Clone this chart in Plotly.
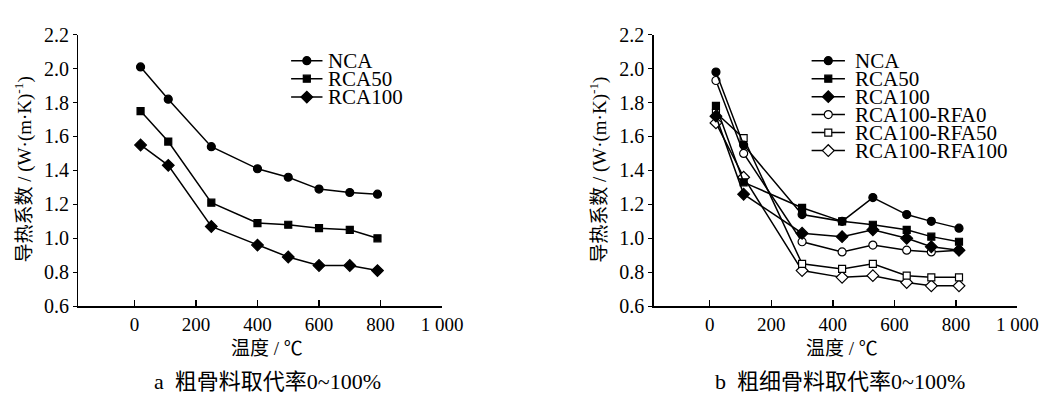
import plotly.graph_objects as go

# ---- data -------------------------------------------------------------
# panel a: coarse aggregate replacement
temps_a = [20, 110, 250, 400, 500, 600, 700, 790]
nca_a = [2.01, 1.82, 1.54, 1.41, 1.36, 1.29, 1.27, 1.26]
rca50_a = [1.75, 1.57, 1.21, 1.09, 1.08, 1.06, 1.05, 1.00]
rca100_a = [1.55, 1.43, 1.07, 0.96, 0.89, 0.84, 0.84, 0.81]

# panel b: coarse + fine aggregate replacement
temps_b = [20, 110, 300, 430, 530, 640, 720, 810]
nca_b = [1.98, 1.55, 1.14, 1.10, 1.24, 1.14, 1.10, 1.06]
rca50_b = [1.78, 1.33, 1.18, 1.10, 1.08, 1.05, 1.01, 0.98]
rca100_b = [1.72, 1.26, 1.03, 1.01, 1.05, 1.00, 0.95, 0.93]
rfa0_b = [1.93, 1.50, 0.98, 0.92, 0.96, 0.93, 0.92, 0.93]
rfa50_b = [1.74, 1.59, 0.85, 0.82, 0.85, 0.78, 0.77, 0.77]
rfa100_b = [1.68, 1.36, 0.81, 0.77, 0.78, 0.74, 0.72, 0.72]

names_a = ["NCA", "RCA50", "RCA100"]
names_b = ["NCA", "RCA50", "RCA100", "RCA100-RFA0", "RCA100-RFA50", "RCA100-RFA100"]

x_tickvals = [0, 200, 400, 600, 800, 1000]
x_ticktext = ["0", "200", "400", "600", "800", "1 000"]
y_tickvals = [0.6, 0.8, 1.0, 1.2, 1.4, 1.6, 1.8, 2.0, 2.2]
y_ticktext = ["0.6", "0.8", "1.0", "1.2", "1.4", "1.6", "1.8", "2.0", "2.2"]

ytitle = "导热系数 / (W·(m·K)<sup>-1</sup>)"
xtitle = "温度 / ℃"
sub_a = "a  粗骨料取代率0~100%"
sub_b = "b  粗细骨料取代率0~100%"

# ---- geometry / styling -----------------------------------------------
W, H = 1061, 409
FONT = "Liberation Serif"
CJK = "Liberation Serif, Noto Sans CJK SC"
X_RANGE = [-182, 1000]
Y_RANGE = [0.6, 2.2]
PLOT_TOP, PLOT_BOTTOM = 25, 312          # pixel rows of the plot areas
PANEL_A = (80, 451)                      # pixel columns of panel a
PANEL_B = (667, 1038)                    # pixel columns of panel b

STYLE = {
    "NCA": dict(symbol="circle", size=8, color="black"),
    "RCA50": dict(symbol="square", size=7, color="black"),
    "RCA100": dict(symbol="diamond", size=9, color="black"),
    "RCA100-RFA0": dict(symbol="circle", size=8, color="white"),
    "RCA100-RFA50": dict(symbol="square", size=7, color="white"),
    "RCA100-RFA100": dict(symbol="diamond", size=9, color="white"),
}


def marker(name):
    s = STYLE[name]
    return dict(symbol=s["symbol"], size=s["size"], color=s["color"],
                line=dict(color="black", width=1.2))


def px(x):
    return x / W


def py(y):
    return 1 - y / H


def to_data(panel, xpix, ypix):
    """Pixel position inside a panel -> that panel's axis coordinates."""
    x0, x1 = panel
    xd = X_RANGE[0] + (xpix - x0) / (x1 - x0) * (X_RANGE[1] - X_RANGE[0])
    yd = Y_RANGE[1] - (ypix - PLOT_TOP) / (PLOT_BOTTOM - PLOT_TOP) * (Y_RANGE[1] - Y_RANGE[0])
    return xd, yd


fig = go.Figure()

series_a = [nca_a, rca50_a, rca100_a]
series_b = [nca_b, rca50_b, rca100_b, rfa0_b, rfa50_b, rfa100_b]

for name, vals in zip(names_a, series_a):
    fig.add_trace(go.Scatter(
        x=temps_a, y=vals, mode="lines+markers", name=name, showlegend=False,
        line=dict(color="black", width=1.5), marker=marker(name),
        xaxis="x", yaxis="y"))

# draw the lower series first so the upper filled markers sit on top
for name, vals in reversed(list(zip(names_b, series_b))):
    fig.add_trace(go.Scatter(
        x=temps_b, y=vals, mode="lines+markers", name=name, showlegend=False,
        line=dict(color="black", width=1.5), marker=marker(name),
        xaxis="x2", yaxis="y2"))

# ---- legend keys (line + marker) and labels ---------------------------
legend_a = dict(panel=PANEL_A, axes=("x", "y"), x0=297, x1=329, xm=313, xt=333,
                rows=[52.5, 71.5, 91.0])
legend_b = dict(panel=PANEL_B, axes=("x2", "y2"), x0=828, x1=862, xm=845, xt=870,
                rows=[52.5, 71.5, 90.5, 109.5, 128.5, 147.5])

annotations = []
for leg, names in ((legend_a, names_a), (legend_b, names_b)):
    xa, ya = leg["axes"]
    for name, yy in zip(names, leg["rows"]):
        lx0, ly = to_data(leg["panel"], leg["x0"], yy)
        lx1, _ = to_data(leg["panel"], leg["x1"], yy)
        mx, _ = to_data(leg["panel"], leg["xm"], yy)
        fig.add_trace(go.Scatter(
            x=[lx0, lx1], y=[ly, ly], mode="lines",
            line=dict(color="black", width=1.5), showlegend=False,
            hoverinfo="skip", xaxis=xa, yaxis=ya))
        fig.add_trace(go.Scatter(
            x=[mx], y=[ly], mode="markers", marker=marker(name),
            showlegend=False, hoverinfo="skip", xaxis=xa, yaxis=ya))
        annotations.append(dict(
            x=px(leg["xt"]), y=py(yy), xref="paper", yref="paper", text=name,
            showarrow=False, xanchor="left", yanchor="middle",
            font=dict(family=FONT, size=21, color="black")))

# ---- titles -----------------------------------------------------------
for xc in (24, 611):
    annotations.append(dict(
        x=px(xc), y=py(168), xref="paper", yref="paper", text=ytitle,
        textangle=-90, showarrow=False, xanchor="center", yanchor="middle",
        font=dict(family=CJK, size=19, color="black")))
for xc in (272, 859):
    annotations.append(dict(
        x=px(xc), y=py(357), xref="paper", yref="paper", text=xtitle,
        showarrow=False, xanchor="center", yanchor="middle",
        font=dict(family=CJK, size=19, color="black")))
for xc, txt in ((273, sub_a), (857, sub_b)):
    annotations.append(dict(
        x=px(xc), y=py(392), xref="paper", yref="paper", text=txt,
        showarrow=False, xanchor="center", yanchor="middle",
        font=dict(family=CJK, size=22, color="black")))

xaxis_common = dict(
    range=X_RANGE, tickvals=x_tickvals, ticktext=x_ticktext,
    ticks="inside", ticklen=6, tickwidth=1.3, tickcolor="black",
    showline=True, linecolor="black", linewidth=1.5, showgrid=False,
    zeroline=False, tickfont=dict(family=FONT, size=19, color="black"),
    fixedrange=True)
yaxis_common = dict(
    range=Y_RANGE, tickvals=y_tickvals, ticktext=y_ticktext,
    ticks="outside", ticklen=4, tickwidth=1.3, tickcolor="black",
    showline=True, linecolor="black", linewidth=1.5, showgrid=False,
    zeroline=False, tickfont=dict(family=FONT, size=20, color="black"),
    fixedrange=True)

fig.update_layout(
    width=W, height=H, autosize=False,
    margin=dict(l=0, r=0, t=0, b=0, pad=0),
    paper_bgcolor="white", plot_bgcolor="white",
    showlegend=False,
    xaxis=dict(domain=[px(PANEL_A[0]), px(PANEL_A[1])], anchor="y", **xaxis_common),
    yaxis=dict(domain=[py(PLOT_BOTTOM), py(PLOT_TOP)], anchor="x", **yaxis_common),
    xaxis2=dict(domain=[px(PANEL_B[0]), px(PANEL_B[1])], anchor="y2", **xaxis_common),
    yaxis2=dict(domain=[py(PLOT_BOTTOM), py(PLOT_TOP)], anchor="x2", **yaxis_common),
    annotations=annotations,
)

fig.write_html("out.html", config={"staticPlot": True})
